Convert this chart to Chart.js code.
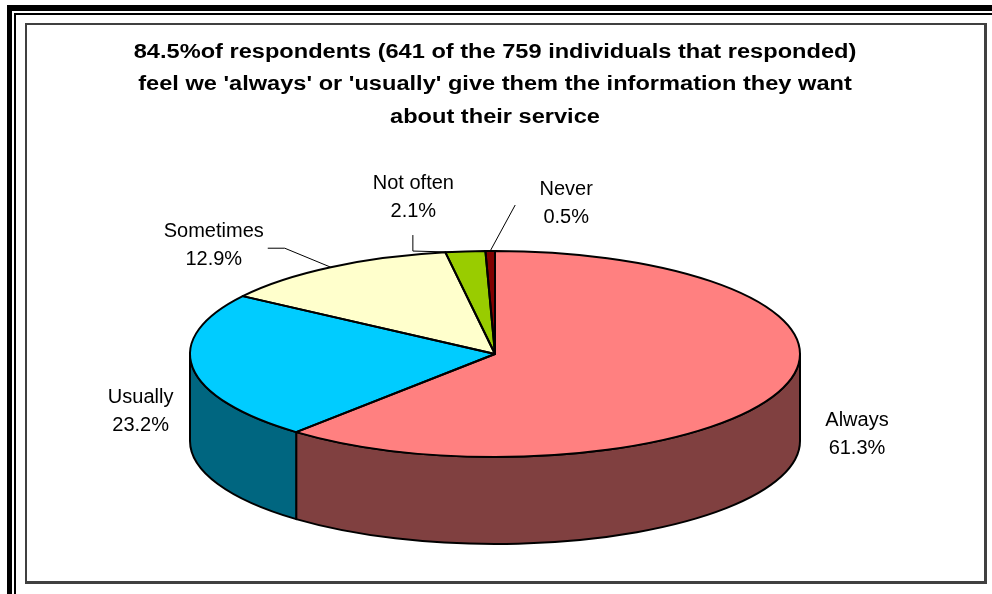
<!DOCTYPE html>
<html>
<head>
  <title>Information about their service</title>
  <script src="https://cdn.jsdelivr.net/npm/chart.js"></script>
  <style>
    body { margin: 0; background: #fff; }
    .frame { position: absolute; }
    #outer { left: 7px; top: 5px; width: 1000px; height: 600px; border-top: 6px solid #000; border-left: 5px solid #000; }
    #rule { left: 14px; top: 13px; width: 1000px; height: 600px; border-top: 2px solid #000; border-left: 2px solid #000; }
    #box { left: 25px; top: 23px; width: 957px; height: 556px; border: 2px solid #404040; border-right-width: 3px; border-bottom-width: 3px; }
    canvas { position: absolute; left: 0; top: 0; }
  </style>
</head>
<body>
  <div class="frame" id="outer"></div>
  <div class="frame" id="rule"></div>
  <div class="frame" id="box"></div>
  <canvas id="pie" width="992" height="594"></canvas>

  <script>
    const categories = ['Always', 'Usually', 'Sometimes', 'Not often', 'Never'];
    const shares = [61.3, 23.2, 12.9, 2.1, 0.5];
    const titleLines = [
      "84.5%of respondents (641 of the 759 individuals that responded)",
      "feel we 'always' or 'usually' give them the information they want",
      "about their service"
    ];

    const topColours = ['#ff8080', '#00ccff', '#ffffcc', '#99cc00', '#800000'];
    const sideColours = ['#804040', '#006680', '#808066', '#4d6600', '#400000'];

    // the pie is drawn as a circle and stretched sideways into a flat ellipse
    const stretch = 305 / 103;
    const depth = 87;
    const font = '"Liberation Sans", Arial, sans-serif';

    // where each label sits relative to its point on the rim (at = fraction along the slice)
    const labelLayout = [
      { dx: 76, dy: 45 },
      { dx: -52, dy: 44 },
      { dx: -117, dy: -22, leader: [[-63, -19], [-46, -19]] },
      { dx: -38, dy: -54.5, at: 0.15, leader: [[-38.5, -17], [-38.5, -1]] },
      { dx: 76, dy: -47.5, leader: [[25, -46]] }
    ];

    function rimPoint(arc, at, rx, ry) {
      const t = arc.startAngle + (arc.endAngle - arc.startAngle) * at;
      return [arc.x + rx * Math.cos(t), arc.y + ry * Math.sin(t)];
    }

    const pie3d = {
      id: 'pie3d',
      beforeDatasetsDraw(chart) {
        const ctx = chart.ctx;
        const arcs = chart.getDatasetMeta(0).data;
        const { x, y, outerRadius: r } = arcs[0];
        const rx = r * stretch;

        // front walls, only the part facing the viewer
        ctx.save();
        ctx.lineWidth = 2;
        ctx.strokeStyle = '#000';
        ctx.lineJoin = 'round';
        arcs.forEach((arc, i) => {
          const a = Math.max(arc.startAngle, 0);
          const b = Math.min(arc.endAngle, Math.PI);
          if (b <= a) return;
          ctx.beginPath();
          ctx.ellipse(x, y, rx, r, 0, a, b);
          ctx.ellipse(x, y + depth, rx, r, 0, b, a, true);
          ctx.closePath();
          ctx.fillStyle = sideColours[i];
          ctx.fill();
          ctx.stroke();
        });
        ctx.restore();

        ctx.save();
        ctx.translate(x, y);
        ctx.scale(stretch, 1);
        ctx.translate(-x, -y);
      },
      afterDatasetsDraw(chart) {
        const ctx = chart.ctx;
        ctx.restore();

        const arcs = chart.getDatasetMeta(0).data;
        const { x, y, outerRadius: r } = arcs[0];
        const rx = r * stretch;

        ctx.save();
        ctx.lineWidth = 2;
        ctx.strokeStyle = '#000';
        ctx.lineJoin = 'round';
        arcs.forEach(arc => {
          ctx.beginPath();
          ctx.moveTo(x, y);
          ctx.ellipse(x, y, rx, r, 0, arc.startAngle, arc.endAngle);
          ctx.closePath();
          ctx.stroke();
        });

        ctx.font = '20px ' + font;
        ctx.fillStyle = '#000';
        ctx.textAlign = 'center';
        ctx.textBaseline = 'middle';
        arcs.forEach((arc, i) => {
          const lay = labelLayout[i];
          const [px, py] = rimPoint(arc, lay.at ?? 0.5, rx, r);
          if (lay.leader) {
            ctx.beginPath();
            ctx.lineWidth = 1;
            ctx.moveTo(px + lay.leader[0][0], py + lay.leader[0][1]);
            lay.leader.slice(1).forEach(p => ctx.lineTo(px + p[0], py + p[1]));
            ctx.lineTo(px, py);
            ctx.stroke();
          }
          const lx = px + lay.dx, ly = py + lay.dy;
          ctx.fillText(categories[i], lx, ly - 14);
          ctx.fillText(shares[i].toFixed(1) + '%', lx, ly + 14);
        });
        ctx.restore();
      },
      afterDraw(chart) {
        const ctx = chart.ctx;
        ctx.save();
        ctx.font = 'bold 20px ' + font;
        ctx.fillStyle = '#000';
        ctx.textAlign = 'center';
        ctx.textBaseline = 'middle';
        // title glyphs are set a little wide
        ctx.translate(495, 0);
        ctx.scale(1.18, 1);
        titleLines.forEach((line, i) => ctx.fillText(line, 0, 52 + i * 32.5));
        ctx.restore();
      }
    };

    new Chart(document.getElementById('pie'), {
      type: 'pie',
      data: {
        labels: categories,
        datasets: [{
          data: shares,
          backgroundColor: topColours,
          borderWidth: 0
        }]
      },
      options: {
        responsive: false,
        animation: false,
        events: [],
        layout: { padding: { top: 251, bottom: 137, left: 0, right: 2 } },
        plugins: {
          legend: { display: false },
          tooltip: { enabled: false }
        }
      },
      plugins: [pie3d]
    });
  </script>
</body>
</html>
